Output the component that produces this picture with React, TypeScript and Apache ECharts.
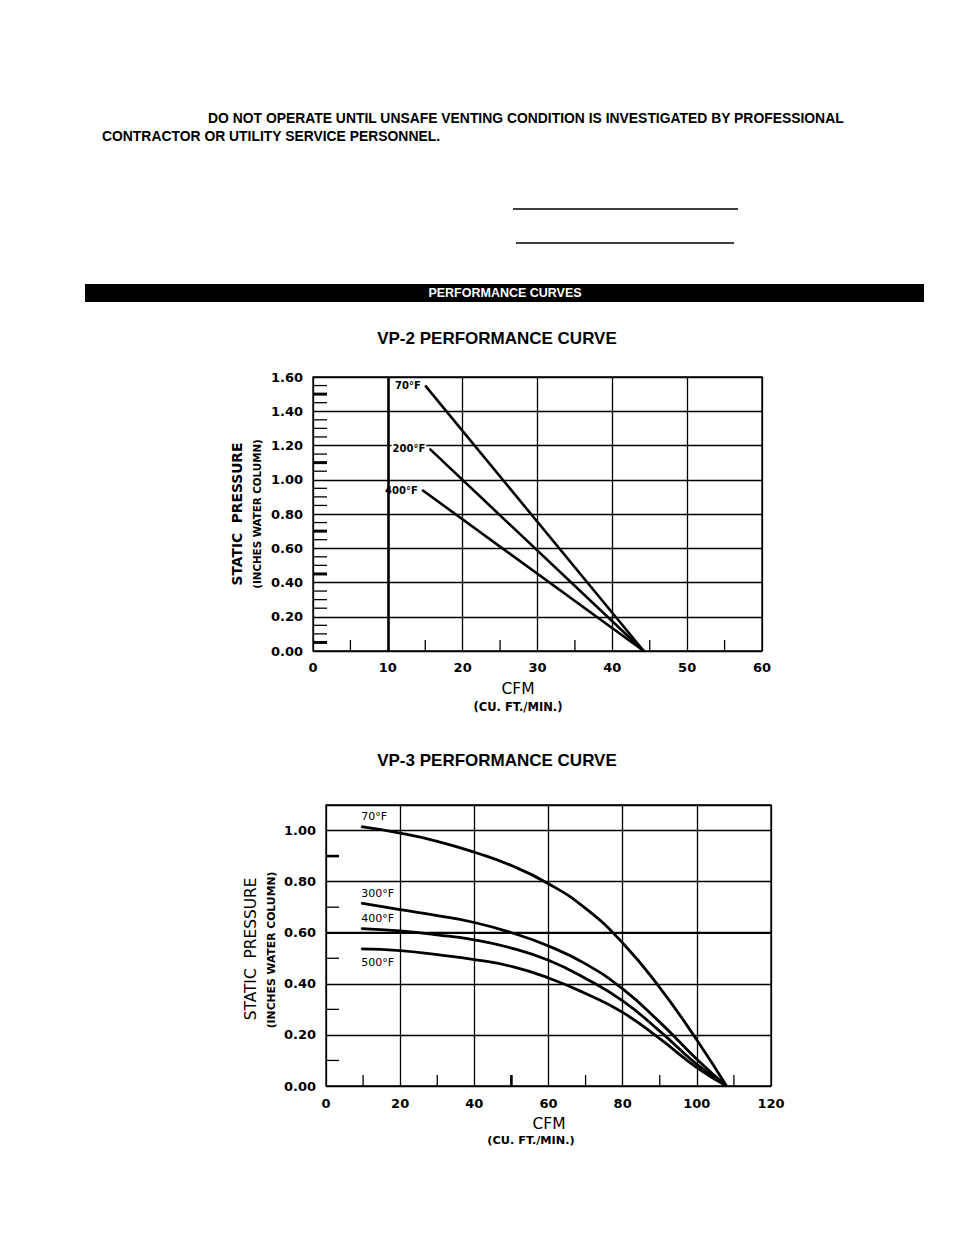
import React, { useEffect, useRef } from "react";
import * as echarts from "echarts";

// ---------- Data ----------
const VP2_X_LABELS = [0, 10, 20, 30, 40, 50, 60];
const VP2_Y_LABELS = [0, 0.2, 0.4, 0.6, 0.8, 1.0, 1.2, 1.4, 1.6];
const VP2_70F = [[15.0, 1.55], [44.2, 0.0]];
const VP2_200F = [[15.6, 1.18], [44.2, 0.0]];
const VP2_400F = [[14.6, 0.94], [44.2, 0.0]];
const VP2_CURVE_NAMES = ["70°F", "200°F", "400°F"];
const VP2_Y_MINOR_THIN = [0.1, 0.15, 0.25, 0.3, 0.35, 0.5, 0.55, 0.65, 0.75, 0.85, 0.9, 0.95, 1.05, 1.15, 1.25, 1.3, 1.35, 1.45, 1.55];
const VP2_Y_MINOR_THICK = [0.05, 0.45, 0.7, 1.1, 1.5];
const VP2_X_MINOR = [5, 15, 25, 35, 45, 55];
const VP2_HEAVY_X = [10];

const VP3_X_LABELS = [0, 20, 40, 60, 80, 100, 120];
const VP3_Y_LABELS = [0, 0.2, 0.4, 0.6, 0.8, 1.0];
const VP3_70F = [[9.5, 1.015], [20, 0.99], [30, 0.958], [40, 0.915], [50, 0.863], [60, 0.792], [70, 0.695], [80, 0.56], [90, 0.385], [100, 0.18], [108, 0]];
const VP3_300F = [[9.5, 0.716], [20, 0.69], [30, 0.667], [40, 0.64], [50, 0.6], [60, 0.548], [70, 0.478], [80, 0.38], [90, 0.25], [100, 0.105], [108, 0]];
const VP3_400F = [[9.5, 0.616], [20, 0.607], [30, 0.592], [40, 0.572], [50, 0.54], [60, 0.492], [70, 0.421], [80, 0.333], [90, 0.215], [100, 0.085], [108, 0]];
const VP3_500F = [[9.5, 0.537], [20, 0.53], [30, 0.514], [40, 0.495], [50, 0.468], [60, 0.423], [70, 0.362], [80, 0.288], [90, 0.185], [100, 0.072], [108, 0]];
const VP3_CURVE_NAMES = ["70°F", "300°F", "400°F", "500°F"];
const VP3_Y_MINOR_THIN = [0.1, 0.3, 0.5, 0.7];
const VP3_Y_MINOR_THICK = [0.9];
const VP3_X_MINOR_THIN = [10, 30, 70, 90, 110];
const VP3_X_MINOR_THICK = [50];
const VP3_HEAVY_Y = [0.6];

const WARNING_1 = "DO NOT OPERATE UNTIL UNSAFE VENTING CONDITION IS INVESTIGATED BY PROFESSIONAL";
const WARNING_2 = "CONTRACTOR OR UTILITY SERVICE PERSONNEL.";
const SECTION = "PERFORMANCE CURVES";
const TITLE_VP2 = "VP-2 PERFORMANCE CURVE";
const TITLE_VP3 = "VP-3 PERFORMANCE CURVE";
const Y_TITLE = "STATIC  PRESSURE";
const Y_SUB = "(INCHES WATER COLUMN)";
const X_TITLE = "CFM";
const X_SUB = "(CU. FT./MIN.)";

// ---------- Helpers ----------
const TECH_FONT = "DejaVu Sans";
const ARIAL = "Liberation Sans";

function tickSeries(axisIdx: number, data: number[][], lenY: number, lenX: number) {
  return {
    type: "custom",
    xAxisIndex: axisIdx,
    yAxisIndex: axisIdx,
    silent: true,
    clip: false,
    z: 5,
    data,
    renderItem: (params: any, api: any) => {
      const v = api.value(0);
      const w = api.value(1);
      const o = api.value(2);
      const p = o === 0 ? api.coord([0, v]) : api.coord([v, 0]);
      const e = o === 0 ? [p[0] + lenY, p[1]] : [p[0], p[1] - lenX];
      return {
        type: "line",
        shape: { x1: p[0], y1: p[1], x2: e[0], y2: e[1] },
        style: { stroke: "#000", lineWidth: w },
      };
    },
  };
}

function axisLabelStyle(margin: number) {
  return {
    color: "#000",
    fontFamily: TECH_FONT,
    fontWeight: "bold",
    fontSize: 13,
    margin,
  };
}

function text(x: number, y: number, t: string, opts: any = {}) {
  return {
    type: "text",
    x,
    y,
    rotation: opts.rotation || 0,
    silent: true,
    style: {
      text: t,
      fill: opts.fill || "#000",
      fontSize: opts.fontSize || 13,
      fontWeight: opts.fontWeight || "bold",
      fontFamily: opts.fontFamily || ARIAL,
      align: opts.align || "left",
      verticalAlign: "middle",
    },
  };
}

export default function App() {
  const ref = useRef<HTMLDivElement>(null);

  useEffect(() => {
    if (!ref.current) return;
    const chart = echarts.init(ref.current, undefined, { renderer: "svg" });

    const gridLine = { show: true, lineStyle: { color: "#000", width: 1.3 } };

    const vp2Label = (name: string) => ({
      show: true,
      formatter: name,
      position: "left",
      distance: 3,
      color: "#000",
      fontFamily: TECH_FONT,
      fontWeight: "bold",
      fontSize: 10,
      backgroundColor: "#fff",
      padding: [1, 1],
    });

    const vp2Series = [VP2_70F, VP2_200F, VP2_400F].map((pts, i) => ({
      type: "line",
      xAxisIndex: 0,
      yAxisIndex: 0,
      symbol: "circle",
      symbolSize: 1,
      showSymbol: true,
      itemStyle: { color: "#000" },
      lineStyle: { color: "#000", width: 2.6 },
      z: 4,
      data: pts.map((p, j) => (j === 0 ? { value: p, label: vp2Label(VP2_CURVE_NAMES[i]) } : p)),
      markLine:
        i === 0
          ? {
              silent: true,
              symbol: "none",
              label: { show: false },
              lineStyle: { color: "#000", width: 2.6, type: "solid" },
              data: VP2_HEAVY_X.map((v) => ({ xAxis: v })),
            }
          : undefined,
    }));

    const vp3Label = (name: string, idx: number) => ({
      show: true,
      formatter: name,
      position: idx === 3 ? "bottom" : "top",
      align: "left",
      distance: idx === 3 ? 8 : 4,
      color: "#000",
      fontFamily: TECH_FONT,
      fontSize: 11,
    });

    const vp3Series = [VP3_70F, VP3_300F, VP3_400F, VP3_500F].map((pts, i) => ({
      type: "line",
      xAxisIndex: 1,
      yAxisIndex: 1,
      symbol: "circle",
      symbolSize: 1,
      showSymbol: true,
      smooth: 0.5,
      itemStyle: { color: "#000" },
      lineStyle: { color: "#000", width: 2.8, join: "round" },
      z: 4,
      data: pts.map((p, j) => (j === 0 ? { value: p, label: vp3Label(VP3_CURVE_NAMES[i], i) } : p)),
      markLine:
        i === 0
          ? {
              silent: true,
              symbol: "none",
              label: { show: false },
              lineStyle: { color: "#000", width: 2.2, type: "solid" },
              data: VP3_HEAVY_Y.map((v) => ({ yAxis: v })),
            }
          : undefined,
    }));

    const vp2Ticks = [
      ...VP2_Y_MINOR_THIN.map((v) => [v, 1.3, 0]),
      ...VP2_Y_MINOR_THICK.map((v) => [v, 3, 0]),
      ...VP2_X_MINOR.map((v) => [v, 1.3, 1]),
    ];
    const vp3Ticks = [
      ...VP3_Y_MINOR_THIN.map((v) => [v, 1.3, 0]),
      ...VP3_Y_MINOR_THICK.map((v) => [v, 2.6, 0]),
      ...VP3_X_MINOR_THIN.map((v) => [v, 1.3, 1]),
      ...VP3_X_MINOR_THICK.map((v) => [v, 2.6, 1]),
    ];

    const option: any = {
      animation: false,
      backgroundColor: "#fff",
      grid: [
        { left: 313, top: 377, width: 449, height: 274, show: true, borderColor: "#000", borderWidth: 1.3, backgroundColor: "transparent" },
        { left: 326, top: 805, width: 445, height: 281, show: true, borderColor: "#000", borderWidth: 1.3, backgroundColor: "transparent" },
      ],
      xAxis: [
        {
          gridIndex: 0,
          type: "value",
          min: VP2_X_LABELS[0],
          max: VP2_X_LABELS[VP2_X_LABELS.length - 1],
          interval: VP2_X_LABELS[1] - VP2_X_LABELS[0],
          axisLine: { show: false },
          axisTick: { show: false },
          splitLine: gridLine,
          axisLabel: axisLabelStyle(10),
        },
        {
          gridIndex: 1,
          type: "value",
          min: VP3_X_LABELS[0],
          max: VP3_X_LABELS[VP3_X_LABELS.length - 1],
          interval: VP3_X_LABELS[1] - VP3_X_LABELS[0],
          axisLine: { show: false },
          axisTick: { show: false },
          splitLine: gridLine,
          axisLabel: axisLabelStyle(11),
        },
      ],
      yAxis: [
        {
          gridIndex: 0,
          type: "value",
          min: VP2_Y_LABELS[0],
          max: VP2_Y_LABELS[VP2_Y_LABELS.length - 1],
          interval: 0.2,
          axisLine: { show: false },
          axisTick: { show: false },
          splitLine: gridLine,
          axisLabel: { ...axisLabelStyle(10), formatter: (v: number) => v.toFixed(2) },
        },
        {
          gridIndex: 1,
          type: "value",
          min: VP3_Y_LABELS[0],
          max: 1.1,
          interval: 0.2,
          axisLine: { show: false },
          axisTick: { show: false },
          splitLine: gridLine,
          axisLabel: {
            ...axisLabelStyle(10),
            showMaxLabel: false,
            formatter: (v: number) => (v > 1.05 ? "" : v.toFixed(2)),
          },
        },
      ],
      series: [...vp2Series, ...vp3Series, tickSeries(0, vp2Ticks, 14, 11), tickSeries(1, vp3Ticks, 13, 11)],
      graphic: [
        text(208, 118, WARNING_1, { fontSize: 13.9 }),
        text(102, 136, WARNING_2, { fontSize: 13.9 }),
        { type: "line", silent: true, shape: { x1: 513, y1: 209, x2: 738, y2: 209 }, style: { stroke: "#000", lineWidth: 1.3 } },
        { type: "line", silent: true, shape: { x1: 516, y1: 243, x2: 734, y2: 243 }, style: { stroke: "#000", lineWidth: 1.3 } },
        { type: "rect", silent: true, shape: { x: 85, y: 284, width: 839, height: 18 }, style: { fill: "#000" } },
        text(505, 293, SECTION, { fill: "#fff", fontSize: 12.5, align: "center" }),
        text(497, 338, TITLE_VP2, { fontSize: 17, align: "center" }),
        text(497, 760, TITLE_VP3, { fontSize: 17, align: "center" }),
        // VP-2 axis titles
        text(237, 514, Y_TITLE, { fontFamily: TECH_FONT, fontSize: 13.8, align: "center", rotation: Math.PI / 2 }),
        text(257, 514, Y_SUB, { fontFamily: TECH_FONT, fontSize: 10.3, align: "center", rotation: Math.PI / 2 }),
        text(518, 689, X_TITLE, { fontFamily: TECH_FONT, fontSize: 15.5, fontWeight: "normal", align: "center" }),
        text(518, 707, X_SUB, { fontFamily: TECH_FONT, fontSize: 11.5, align: "center" }),
        // VP-3 axis titles
        text(251, 949, Y_TITLE, { fontFamily: TECH_FONT, fontSize: 15.4, fontWeight: "normal", align: "center", rotation: Math.PI / 2 }),
        text(271, 950, Y_SUB, { fontFamily: TECH_FONT, fontSize: 10.8, align: "center", rotation: Math.PI / 2 }),
        text(549, 1124, X_TITLE, { fontFamily: TECH_FONT, fontSize: 15.5, fontWeight: "normal", align: "center" }),
        text(531, 1140, X_SUB, { fontFamily: TECH_FONT, fontSize: 11.3, align: "center" }),
      ],
    };

    chart.setOption(option);
    return () => chart.dispose();
  }, []);

  return (
    <div
      ref={ref}
      style={{ position: "absolute", left: 0, top: 0, width: 954, height: 1235, background: "#fff" }}
    />
  );
}
